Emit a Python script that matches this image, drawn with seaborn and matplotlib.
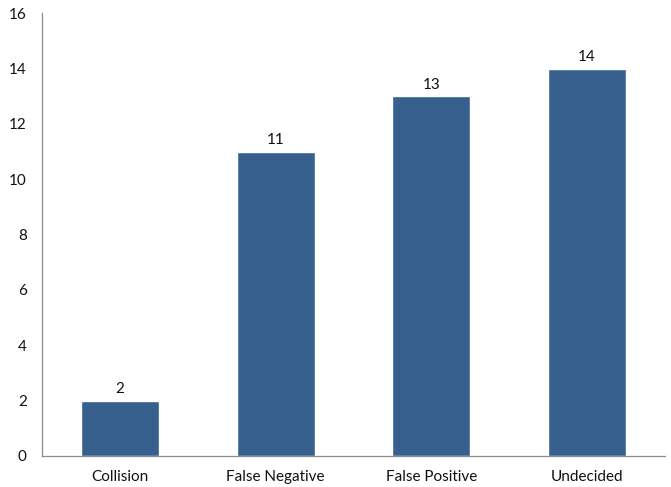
import matplotlib
matplotlib.use("Agg")
import matplotlib.pyplot as plt
import seaborn as sns
import pandas as pd
from matplotlib.ticker import FixedLocator, MultipleLocator, NullFormatter

categories = ["Collision", "False Negative", "False Positive", "Undecided"]
counts = [2, 11, 13, 14]

sns.set_style("white")
plt.rcParams["font.family"] = ["Lato", "DejaVu Sans"]

df = pd.DataFrame({"category": categories, "count": counts})

fig = plt.figure(figsize=(6.71, 4.87), dpi=100)
ax = fig.add_axes([0.0626, 0.0637, 0.9284, 0.9093])

sns.barplot(data=df, x="category", y="count", color="#38608F",
            saturation=1, width=0.5, ax=ax)

for container in ax.containers:
    ax.bar_label(container, fmt="%d", padding=3, fontsize=11, color="#111111")

ax.set_xlim(-0.5, len(categories) - 0.5)
ax.set_ylim(0, 16)
ax.yaxis.set_major_locator(MultipleLocator(2))
ax.set_xlabel("")
ax.set_ylabel("")

for side in ("top", "right"):
    ax.spines[side].set_visible(False)
for side in ("left", "bottom"):
    ax.spines[side].set_color("#8c8c8c")
    ax.spines[side].set_linewidth(0.9)

# category labels without ticks; tick marks sit between categories
ax.tick_params(axis="x", which="major", length=0, pad=10, labelsize=11, labelcolor="#111111")
ax.xaxis.set_minor_locator(FixedLocator([i - 0.5 for i in range(len(categories) + 1)]))
ax.xaxis.set_minor_formatter(NullFormatter())
ax.tick_params(axis="x", which="minor", length=5, width=0.9, color="#8c8c8c", direction="out")
ax.tick_params(axis="y", length=5, width=0.9, color="#8c8c8c", direction="out",
               labelsize=11, labelcolor="#111111", pad=6)

fig.savefig("out.png", dpi=100)
